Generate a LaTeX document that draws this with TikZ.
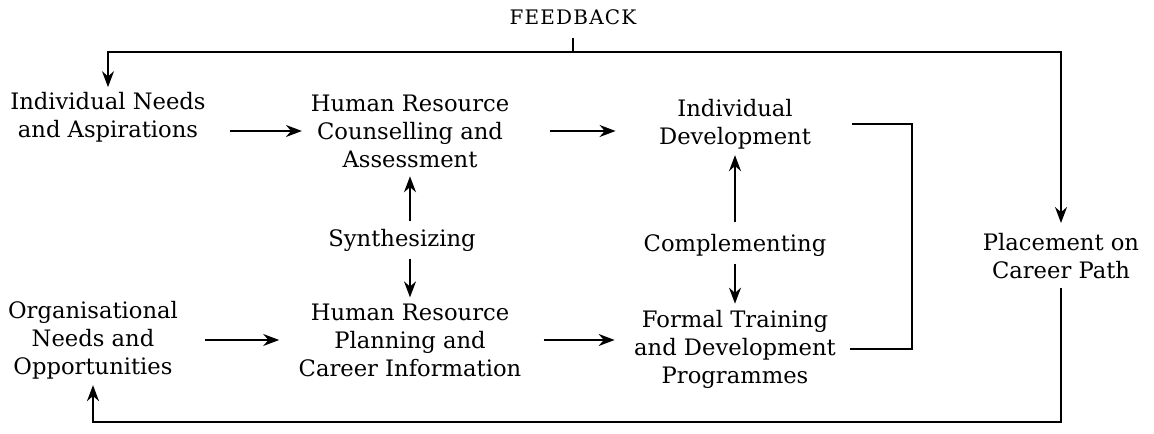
\documentclass[tikz,border=0pt]{standalone}
\usepackage{fontspec}
\setmainfont{DejaVu Serif}
\usetikzlibrary{arrows.meta}
\begin{document}
\begin{tikzpicture}[x=0.75pt,y=-0.75pt,line width=1.3pt,
  >={Stealth[length=12pt,width=9pt]},
  box/.style={align=center,inner sep=2pt,font=\fontsize{17}{21}\selectfont}]
\useasboundingbox (0,0) rectangle (1154,434);
\node[font=\fontsize{15}{18}\selectfont\addfontfeature{LetterSpace=6}] (fb) at (573,17) {FEEDBACK};
\node[box] (ind) at (108,117) {Individual Needs\\and Aspirations};
\node[box] (hrc) at (410,131) {Human Resource\\Counselling and\\Assessment};
\node[box] (idv) at (735,124) {Individual\\Development};
\node[box] (syn) at (402,240) {Synthesizing};
\node[box] (cmp) at (735,245) {Complementing};
\node[box] (org) at (93,340) {Organisational\\Needs and\\Opportunities};
\node[box] (hrp) at (410,340) {Human Resource\\Planning and\\Career Information};
\node[box] (ftd) at (735,349) {Formal Training\\and Development\\Programmes};
\node[box] (plc) at (1061,256) {Placement on\\Career Path};
\coordinate (fbj) at (573,52);
\coordinate (brk) at (912,236);
\coordinate (bot) at (500,422);

\draw[shorten <=6pt] (fb.south) -- (fbj);
\draw[->,shorten >=1pt] (fbj) -| (ind.north);
\draw[->,shorten >=5pt] (fbj) -| (plc.north);
\draw[->,shorten <=16pt,shorten >=4pt] (ind.east |- hrc.west) -- (hrc.west);
\draw[->,shorten <=28pt,shorten >=30pt] (hrc.east) -- (idv.west |- hrc.east);
\draw[->,shorten <=3pt,shorten >=4pt] (syn.north -| hrc.south) -- (hrc.south);
\draw[->,shorten <=3pt,shorten >=2pt] (syn.south -| hrp.north) -- (hrp.north);
\draw[->,shorten <=6pt,shorten >=2pt] (cmp) -- (idv);
\draw[->,shorten <=3pt,shorten >=2pt] (cmp) -- (ftd);
\draw[->,shorten <=18pt,shorten >=12pt] (org.east |- hrp.west) -- (hrp.west);
\draw[->,shorten <=14pt,shorten >=12pt] (hrp.east) -- (ftd.west |- hrp.east);
\draw[shorten <=28pt,shorten >=8pt] (idv.east) -| (brk) |- (ftd.east);
\draw[->,shorten <=4pt,shorten >=2pt] (plc.south) |- (bot) -| (org.south);
\end{tikzpicture}
\end{document}
